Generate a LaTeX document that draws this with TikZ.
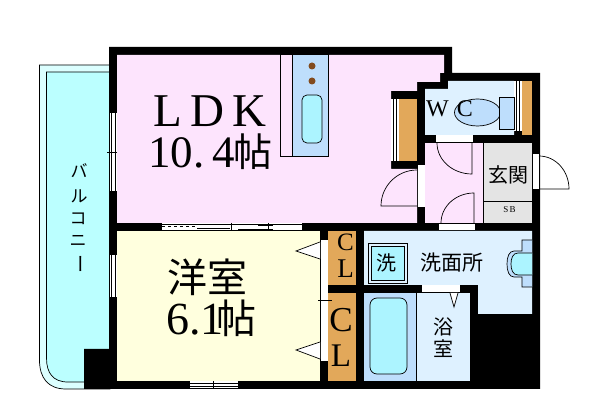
\documentclass[tikz,border=0pt]{standalone}
\usepackage{fontspec}
\setmainfont{Liberation Serif}
\newfontfamily\cjk{Noto Sans CJK JP}
\definecolor{pinkRoom}{RGB}{253,228,253}
\definecolor{creamRoom}{RGB}{255,255,222}
\definecolor{waterRoom}{RGB}{222,241,255}
\definecolor{fixtureBlue}{RGB}{190,222,252}
\definecolor{fixtureCyan}{RGB}{172,244,255}
\definecolor{balconyCyan}{RGB}{187,255,255}
\definecolor{balconyEdge}{RGB}{220,255,255}
\definecolor{closetOrange}{RGB}{226,168,90}
\definecolor{entryGray}{RGB}{228,228,228}
\definecolor{dotBrown}{RGB}{130,75,30}
\tikzstyle{plan} = [x = 1pt, y = -1pt]
\tikzstyle{fixtureLine} = [color=black, line width=.7pt]
\tikzstyle{doorLine} = [color=black, line width=.7pt]
\tikzstyle{latinText} = [inner sep=0pt, text=black]
\tikzstyle{roomText} = [inner sep=0pt, text=black, font=\cjk]
\newcommand{\fs}[1]{\fontsize{#1}{#1}\selectfont}
\newcommand{\room}[5]{\fill [#1] (#2,#3) rectangle +(#4,#5);}
\newcommand{\fixture}[5]{\filldraw [fixtureLine, fill=#1] (#2,#3) rectangle +(#4,#5);}
\newcommand{\doorSwing}[6]{\draw [doorLine] (#1,#2) -- +(#3:#5 and #6) arc [start angle=#3, end angle=#4, x radius=#5, y radius=#6];}
\newcommand{\vWindow}[3]{
  \fill [white] (#1,#2) rectangle (#1+6.5,#3);
  \draw [fixtureLine] (#1+1,#2) -- (#1+1,#3);
  \draw [fixtureLine] (#1+5,#2) -- (#1+5,#3);
}
\begin{document}
\begin{tikzpicture}[plan]
  \useasboundingbox (0,0) rectangle (600,419);
  \fill [white] (0,0) rectangle (600,419);

  % balcony
  \filldraw [fixtureLine, fill=balconyEdge] (110,65) -- (39.5,65) -- (39.5,360) .. controls (39.5,378) and (48,389) .. (66,389) -- (110,389) -- cycle;
  \filldraw [fixtureLine, fill=balconyCyan] (110,72) -- (46.5,72) -- (46.5,358) .. controls (46.5,373) and (53,382) .. (68,382) -- (110,382) -- cycle;

  % walls
  \fill [black] (109,47) -- (452,47) -- (452,73) -- (540,73) -- (540,389) -- (84,389) -- (84,349) -- (109,349) -- cycle;

  % rooms
  \fill [pinkRoom] (117,55) -- (444,55) -- (444,73) -- (440,73) -- (440,82) -- (417,82) -- (417,91) -- (391,91) -- (391,169) -- (417,169) -- (417,223) -- (117,223) -- cycle;
  \fill [waterRoom] (425,89) -- (448,89) -- (448,81) -- (514,81) -- (514,135) -- (425,135) -- cycle;
  \room{pinkRoom}{425}{143}{58}{80}
  \room{entryGray}{483}{143}{49}{80}
  \room{creamRoom}{117}{231}{203}{150}
  \fill [waterRoom] (364,231) -- (532,231) -- (532,314) -- (478,314) -- (478,285) -- (364,285) -- cycle;
  \room{waterRoom}{416}{293}{54}{88}
  \room{fixtureBlue}{364}{293}{52}{88}
  \room{closetOrange}{328}{231}{28}{54}
  \room{closetOrange}{328}{293}{28}{88}
  \room{closetOrange}{399}{99}{18}{62}
  \room{closetOrange}{522}{81}{10}{54}

  % kitchen island
  \fixture{pinkRoom}{280}{54.5}{12}{101.5}
  \fixture{fixtureBlue}{292}{54.5}{36}{101.5}
  \fill [dotBrown] (312,66) circle (3.5);
  \fill [dotBrown] (312,81) circle (3.5);
  \filldraw [fixtureLine, fill=fixtureCyan, rounded corners=5pt] (302,95) rectangle (322,143);

  % storage shelves
  \room{white}{391}{99}{8}{62}
  \draw [fixtureLine] (393.5,99) -- (393.5,161);
  \draw [fixtureLine] (396,99) -- (396,161);
  \room{white}{514}{81}{8}{50}
  \draw [fixtureLine] (516.5,81) -- (516.5,131);
  \draw [fixtureLine] (519.5,81) -- (519.5,131);

  % toilet
  \filldraw [fixtureLine, fill=fixtureBlue] (477.5,112.5) ellipse (23 and 13.5);
  \fixture{fixtureBlue}{499}{97}{15}{32}

  % entry divider
  \draw [fixtureLine] (483,143) -- (483,223);
  \draw [fixtureLine] (483,201) -- (532,201);

  % openings in walls
  \room{white}{417.5}{165}{7}{42}
  \room{white}{436}{135.5}{37}{6.5}
  \room{white}{439}{224}{36}{6.5}
  \room{white}{532.5}{154}{6.5}{35}
  \room{white}{422}{285.5}{38}{6.5}
  \room{white}{321}{240}{6.5}{121}
  \draw [fixtureLine] (318,300) -- (332,300);
  \draw [fixtureLine] (416,293) -- (416,381);

  % doors
  \doorSwing{417}{206}{180}{270}{36}{36}
  \doorSwing{472}{143}{90}{180}{35}{31}
  \doorSwing{474}{223}{270}{180}{33}{30}
  \doorSwing{539}{189}{0}{-90}{30}{33}
  \filldraw [fixtureLine, fill=white] (320,242) -- (296,251) -- (320,259);
  \filldraw [fixtureLine, fill=white] (320,342) -- (296,350) -- (320,359);
  \filldraw [fixtureLine, fill=white] (450,293) -- (454,307) -- (458,293);

  % windows
  \vWindow{110}{113}{191}
  \draw [fixtureLine] (107,152) -- (117,152);
  \vWindow{110}{255}{297}
  \room{white}{162}{223.5}{140}{7}
  \draw [fixtureLine] (162,224) -- (302,224);
  \draw [fixtureLine, dashed] (162,226.5) -- (197,226.5);
  \draw [fixtureLine] (197,228) -- (230,228);
  \draw [fixtureLine] (238,229) -- (273,229);
  \draw [fixtureLine] (258,225.5) -- (273,225.5);
  \draw [fixtureLine] (231,223) -- (231,231);
  \draw [fixtureLine] (268,223) -- (268,231);
  \room{white}{190}{381.5}{48}{7}
  \draw [fixtureLine] (190,383.5) -- (238,383.5);
  \draw [fixtureLine] (190,386.5) -- (238,386.5);
  \draw [fixtureLine] (213,381) -- (213,389);

  % washroom fixtures
  \filldraw [fixtureLine, fill=waterRoom] (368,243) rectangle (407,283);
  \filldraw [fixtureLine, fill=fixtureCyan] (371,246) rectangle (404,280);
  \filldraw [fixtureLine, fill=fixtureBlue] (532,240) -- (522,240) -- (522,251) -- (514,251) .. controls (509,251) and (507,257) .. (507,264) .. controls (507,271) and (509,277) .. (514,277) -- (522,277) -- (522,287) -- (532,287);
  \filldraw [fixtureLine, fill=fixtureCyan] (532,253) -- (518,253) .. controls (513,253) and (511,258) .. (511,264) .. controls (511,270) and (513,275) .. (518,275) -- (532,275);
  \filldraw [fixtureLine, fill=fixtureCyan, rounded corners=7pt] (370,298) rectangle (407,374);

  % labels
  \node [latinText, font=\fs{47}, anchor=base] (ldkLabel) at (210,127) {L\hspace{8pt}D\hspace{8pt}K};
  \node [latinText, font=\fs{45}, anchor=base west] (ldkNumber) at (148,168) {10.\hspace{8pt}4};
  \node [roomText, font=\cjk\fs{39}, anchor=base west] (ldkUnit) at (233,167) {帖};
  \node [roomText, font=\cjk\fs{40}] (bedLabel) at (207.5,277) {洋室};
  \node [latinText, font=\fs{46}, anchor=base west] (bedNumber) at (166,335) {6.1};
  \node [roomText, font=\cjk\fs{40}, anchor=base west] (bedUnit) at (216,334) {帖};
  \node [roomText, font=\cjk\fs{17}] (balconyA) at (79,171) {バ};
  \node [roomText, font=\cjk\fs{17}] (balconyB) at (79,196) {ル};
  \node [roomText, font=\cjk\fs{17}] (balconyC) at (78,219) {コ};
  \node [roomText, font=\cjk\fs{17}] (balconyD) at (78,241) {ニ};
  \node [roomText, font=\cjk\fs{19}, rotate=-90] (balconyE) at (78,264) {ー};
  \node [latinText, font=\fs{24}, anchor=base] (wcLabel) at (449.5,117) {W\hspace{8pt}C};
  \node [roomText, font=\cjk\fs{20}] (entryLabel) at (508.5,174.5) {玄関};
  \node [latinText, font=\fs{9}] (sbLabel) at (509.5,210) {S\hspace{1.5pt}B};
  \node [latinText, font=\fs{25}] (clUpperC) at (345.5,242) {C};
  \node [latinText, font=\fs{27}] (clUpperL) at (345.5,269) {L};
  \node [latinText, font=\fs{35}] (clLowerC) at (341,320) {C};
  \node [latinText, font=\fs{33}] (clLowerL) at (341,356) {L};
  \node [roomText, font=\cjk\fs{20}] (washerLabel) at (386.5,262.5) {洗};
  \node [roomText, font=\cjk\fs{21}] (washLabel) at (452,263) {洗面所};
  \node [roomText, font=\cjk\fs{20}] (bathLabelA) at (443,327) {浴};
  \node [roomText, font=\cjk\fs{20}] (bathLabelB) at (443,349) {室};
\end{tikzpicture}
\end{document}
